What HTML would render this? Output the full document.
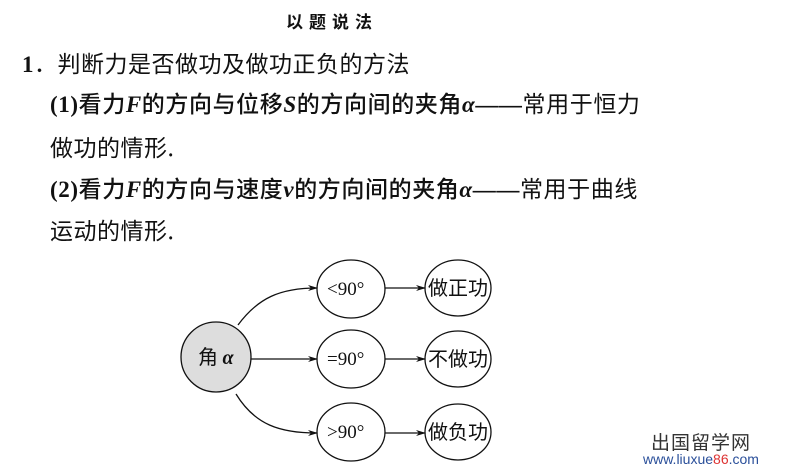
<!DOCTYPE html>
<html><head><meta charset="utf-8"><style>
body{margin:0;width:785px;height:469px;background:#fff;position:relative;overflow:hidden;font-family:"Liberation Serif","Noto Serif CJK SC","Noto Sans CJK SC",serif;color:#111}
.t{position:absolute;white-space:nowrap;line-height:1}
.b{font-weight:bold}
i{font-style:italic;font-weight:bold}
.c{font-family:'Noto Sans CJK SC',sans-serif}
</style></head><body>
<div class="t b c" style="left:286px;top:12px;font-size:17px;letter-spacing:6px">以题说法</div>
<div class="t b" style="left:22px;top:51px;font-size:23px;letter-spacing:0.5px"><span>1</span><span class="c" style="font-weight:normal">．判断力是否做功及做功正负的方法</span></div>
<div class="t" style="left:50px;top:91px;font-size:23px;letter-spacing:0.6px"><b>(1)</b><span class="c" style="font-weight:500">看力</span><i>F</i><span class="c" style="font-weight:500">的方向与位移</span><i>S</i><span class="c" style="font-weight:500">的方向间的夹角</span><i>α</i><b>——</b><span class="c" style="font-weight:normal">常用于恒力</span></div>
<div class="t c" style="left:50px;top:135px;font-size:23px;font-weight:normal;letter-spacing:0.5px">做功的情形.</div>
<div class="t" style="left:50px;top:176px;font-size:23px;letter-spacing:0.6px"><b>(2)</b><span class="c" style="font-weight:500">看力</span><i>F</i><span class="c" style="font-weight:500">的方向与速度</span><i>v</i><span class="c" style="font-weight:500">的方向间的夹角</span><i>α</i><b>——</b><span class="c" style="font-weight:normal">常用于曲线</span></div>
<div class="t c" style="left:50px;top:218px;font-size:23px;font-weight:normal;letter-spacing:0.5px">运动的情形.</div>
<svg width="785" height="469" style="position:absolute;left:0;top:0">
<defs><marker id="a" markerWidth="10" markerHeight="8" refX="9" refY="4" orient="auto" markerUnits="userSpaceOnUse"><path d="M0,1 L10,4 L0,7 L3,4z" fill="#111"/></marker></defs>
<g stroke="#111" stroke-width="1.3" fill="none">
<circle cx="216" cy="357" r="35" fill="#ddd"/>
<ellipse cx="351" cy="289" rx="34" ry="29" fill="#fff"/>
<ellipse cx="351" cy="359" rx="34" ry="29" fill="#fff"/>
<ellipse cx="351" cy="432" rx="34" ry="29" fill="#fff"/>
<ellipse cx="458" cy="288" rx="33" ry="28" fill="#fff"/>
<ellipse cx="458" cy="359" rx="33" ry="28" fill="#fff"/>
<ellipse cx="458" cy="432" rx="33" ry="28" fill="#fff"/>
<path d="M238,325 C258,298 280,288 317,288" marker-end="url(#a)"/>
<path d="M251,359 L317,359" marker-end="url(#a)"/>
<path d="M236,394 C255,425 280,433 317,433" marker-end="url(#a)"/>
<path d="M385,288 L425,288" marker-end="url(#a)"/>
<path d="M385,359 L425,359" marker-end="url(#a)"/>
<path d="M385,433 L425,433" marker-end="url(#a)"/>
</g>
</svg>
<div class="t c" style="left:198px;top:346px;font-size:20px;font-weight:normal">角 <i style="font-family:'Liberation Serif',serif">α</i></div>
<div class="t" style="left:327px;top:280px;font-size:19px">&lt;90°</div>
<div class="t" style="left:327px;top:350px;font-size:19px">=90°</div>
<div class="t" style="left:327px;top:423px;font-size:19px">&gt;90°</div>
<div class="t c" style="left:428px;top:277px;font-size:20px;font-weight:normal">做正功</div>
<div class="t c" style="left:428px;top:348px;font-size:20px;font-weight:normal">不做功</div>
<div class="t c" style="left:428px;top:421px;font-size:20px;font-weight:normal">做负功</div>
<div class="t c" style="left:651px;top:432px;font-size:19px;color:#333;letter-spacing:1px">出国留学网</div>
<div class="t" style="left:643px;top:452px;font-size:14px;color:#2a4f9a;font-family:'Liberation Sans',sans-serif">www.liuxue<span style="color:#d33">86</span>.com</div>
</body></html>
